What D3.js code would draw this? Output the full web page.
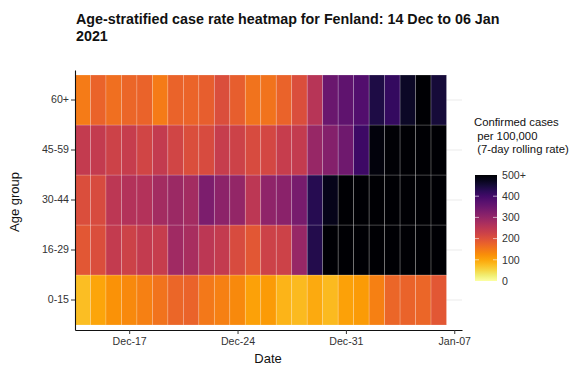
<!DOCTYPE html>
<html><head><meta charset="utf-8">
<script src="https://cdn.jsdelivr.net/npm/d3@7"></script>
<style>
body{margin:0;background:#fff;}
text{font-family:"Liberation Sans",Arial,sans-serif;}
</style>
</head><body>
<svg id="chart" width="581" height="372"></svg>
<script>
// ---------------- DATA ----------------
const dates = ["2020-12-14","2020-12-15","2020-12-16","2020-12-17","2020-12-18","2020-12-19","2020-12-20","2020-12-21",
  "2020-12-22","2020-12-23","2020-12-24","2020-12-25","2020-12-26","2020-12-27","2020-12-28","2020-12-29",
  "2020-12-30","2020-12-31","2021-01-01","2021-01-02","2021-01-03","2021-01-04","2021-01-05","2021-01-06"];
const ageGroups = ["0-15","16-29","30-44","45-59","60+"];
const rate0_15  = [75,100,120,130,140,155,170,175,150,140,130,105,110,85,80,95,80,105,110,140,170,175,170,190];
const rate16_29 = [190,205,240,225,240,235,285,275,250,240,210,190,225,225,295,435,530,560,580,600,610,620,630,640];
const rate30_44 = [205,210,250,260,260,280,290,280,330,310,300,250,305,312,335,430,478,520,560,600,620,640,650,640];
const rate45_59 = [240,240,225,235,220,240,220,205,210,235,225,210,215,235,240,295,320,345,405,490,495,520,540,560];
const rate60p   = [145,175,160,170,175,145,175,172,180,205,180,155,155,175,205,255,350,365,380,440,415,465,510,450];
const xTickDates = ["2020-12-17","2020-12-24","2020-12-31","2021-01-07"];
const legendTicks = [0,100,200,300,400,500];
const legendLabels = ["0","100","200","300","400","500+"];
const titleLines = ["Age-stratified case rate heatmap for Fenland: 14 Dec to 06 Jan","2021"];
const legendTitle = ["Confirmed cases"," per 100,000"," (7-day rolling rate)"];

// --------------- BUILD ----------------
const seriesByGroup = {"0-15":rate0_15,"16-29":rate16_29,"30-44":rate30_44,"45-59":rate45_59,"60+":rate60p};
const parse = d3.utcParse("%Y-%m-%d");
const cells = [];
ageGroups.forEach(g => seriesByGroup[g].forEach((v,i) => cells.push({group:g, date:parse(dates[i]), value:v})));

const svg = d3.select("#chart");
const HALF = 12*3600*1000;
const x = d3.scaleUtc()
  .domain([new Date(parse(dates[0]).getTime()-HALF), new Date(parse("2021-01-07").getTime()+HALF)])
  .range([75, 462]);
const y = d3.scaleBand().domain(ageGroups).range([330, 70]).paddingInner(0).paddingOuter(0.1);
const maxV = 500;
const color = v => d3.interpolateInferno(1 - Math.min(v, maxV)/maxV);

// grid lines
svg.append("g").selectAll("line").data(ageGroups).join("line")
  .attr("x1", 75).attr("x2", 462)
  .attr("y1", d => y(d)+y.bandwidth()/2).attr("y2", d => y(d)+y.bandwidth()/2)
  .attr("stroke", "#ebebeb").attr("stroke-width", 1);

// tiles
svg.append("g").selectAll("rect").data(cells).join("rect")
  .attr("x", d => x(new Date(d.date.getTime()-HALF)))
  .attr("width", d => x(new Date(d.date.getTime()+HALF)) - x(new Date(d.date.getTime()-HALF)))
  .attr("y", d => y(d.group))
  .attr("height", y.bandwidth())
  .attr("fill", d => color(d.value))
  .attr("stroke", "rgba(255,255,255,0.28)")
  .attr("stroke-width", 0.7);

// axes
const xAxis = d3.axisBottom(x).tickValues(xTickDates.map(parse))
  .tickFormat(d3.utcFormat("%b-%d")).tickSize(4).tickSizeOuter(0).tickPadding(3);
const gx = svg.append("g").attr("transform","translate(0,330)").call(xAxis);
gx.select(".domain").attr("stroke","#111").attr("stroke-width",1.1);
gx.selectAll(".tick line").attr("stroke","#333");
gx.selectAll(".tick text").attr("font-size","10.6px").attr("fill","#333")
  .attr("font-family","'Liberation Sans',Arial,sans-serif");

const yAxis = d3.axisLeft(y).tickSize(4).tickSizeOuter(0).tickPadding(2);
const gy = svg.append("g").attr("transform","translate(75,0)").call(yAxis);
gy.select(".domain").attr("stroke","#111").attr("stroke-width",1.1);
gy.selectAll(".tick line").attr("stroke","#333");
gy.selectAll(".tick text").attr("font-size","10.6px").attr("fill","#333")
  .attr("font-family","'Liberation Sans',Arial,sans-serif");

// axis titles
svg.append("text").attr("x", 268).attr("y", 363).attr("text-anchor","middle")
  .attr("font-size","13px").attr("fill","#111").text("Date");
svg.append("text").attr("transform","translate(19,202) rotate(-90)").attr("text-anchor","middle")
  .attr("font-size","13px").attr("fill","#111").text("Age group");

// title
svg.append("g").selectAll("text").data(titleLines).join("text")
  .attr("x", 76).attr("y", (d,i) => 24 + i*16.5)
  .attr("font-size","14.3px").attr("font-weight","bold").attr("fill","#111").text(d => d);

// legend
const defs = svg.append("defs");
const grad = defs.append("linearGradient").attr("id","lg").attr("x1",0).attr("y1",1).attr("x2",0).attr("y2",0);
d3.range(0, 1.0001, 0.05).forEach(t => grad.append("stop").attr("offset", t).attr("stop-color", color(t*maxV)));
const ly = d3.scaleLinear().domain([0, maxV]).range([281, 175]);
svg.append("rect").attr("x",475).attr("y",ly(maxV)).attr("width",22).attr("height",ly(0)-ly(maxV)).attr("fill","url(#lg)");
const lt = svg.append("g");
lt.selectAll("line.l").data(legendTicks.slice(1,-1)).join("line").attr("class","l")
  .attr("x1",475).attr("x2",479).attr("y1",d=>ly(d)).attr("y2",d=>ly(d)).attr("stroke","rgba(255,255,255,0.6)");
lt.selectAll("line.r").data(legendTicks.slice(1,-1)).join("line").attr("class","r")
  .attr("x1",493).attr("x2",497).attr("y1",d=>ly(d)).attr("y2",d=>ly(d)).attr("stroke","rgba(255,255,255,0.6)");
lt.selectAll("text").data(legendTicks).join("text")
  .attr("x",502).attr("y",d=>ly(d)).attr("dy","0.35em")
  .attr("font-size","10.6px").attr("fill","#333").text((d,i)=>legendLabels[i]);
svg.append("g").selectAll("text").data(legendTitle).join("text")
  .attr("x",474).attr("y",(d,i)=>126+i*13.5).attr("xml:space","preserve").style("white-space","pre")
  .attr("font-size","11.3px").attr("fill","#111").text(d=>d);
</script>
</body></html>
